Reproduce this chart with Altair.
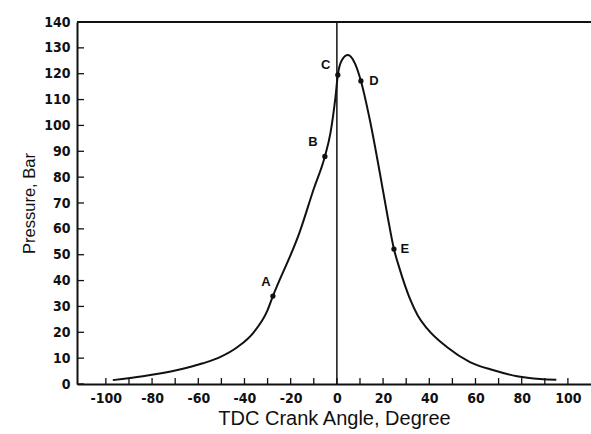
import altair as alt
import pandas as pd

# Pressure curve (crank angle in degrees, pressure in bar)
angle = [-97, -84, -69, -58, -50.6, -43, -36, -30, -27.7, -16, -10, -5.2, -2.8,
         -1.6, -0.6, 0.4, 2.2, 4.8, 7.8, 10.4, 14.3, 18.6, 22, 24.7, 27, 31.6, 35,
         39, 47.6, 57.6, 67.5, 78, 88, 95]
pressure = [1.5, 3, 5.4, 8, 10.4, 14.3, 20, 28.6, 34, 59, 75.5, 88, 97,
            104, 111, 119.5, 125.3, 127.2, 124, 117.2, 102, 81.6, 64.6, 52.2, 45, 33, 26.5,
            21.5, 14.3, 8.5, 5.4, 3, 1.9, 1.6]

# Marked points
pt_names = ["A", "B", "C", "D", "E"]
pt_angle = [-27.7, -5.2, 0.4, 10.4, 24.7]
pt_pressure = [34, 88, 119.5, 117.2, 52.2]

x_ticks = list(range(-100, 101, 10))
y_ticks = list(range(0, 141, 10))

curve = pd.DataFrame({"angle": angle, "pressure": pressure})
pts = pd.DataFrame({"name": pt_names, "angle": pt_angle, "pressure": pt_pressure})
xt = pd.DataFrame({"angle": x_ticks})
yt = pd.DataFrame({"pressure": y_ticks})

INK = "#111111"
xs = alt.Scale(domain=[-112.5, 110], nice=False, zero=False)
ys = alt.Scale(domain=[0, 140], nice=False, zero=False)

x_axis = alt.Axis(
    values=x_ticks,
    labelExpr="datum.value % 20 == 0 ? replace(datum.label, '\u2212', '-') : ''",
    ticks=False, tickSize=0, grid=False, domainColor=INK, domainWidth=2,
    labelFont="DejaVu Sans Condensed", labelFontWeight="bold", labelFontSize=14,
    labelColor=INK, labelPadding=7, labelOverlap=False,
    title="TDC Crank Angle, Degree", titleFont="Liberation Sans",
    titleFontWeight="normal", titleFontSize=20, titleColor=INK, titlePadding=3,
)
y_axis = alt.Axis(
    values=y_ticks, ticks=False, tickSize=0, grid=False, domainColor=INK, domainWidth=2,
    labelFont="DejaVu Sans Condensed", labelFontWeight="bold", labelFontSize=14,
    labelColor=INK, labelPadding=7, labelOverlap=False,
    title="Pressure, Bar", titleFont="Liberation Sans", titleFontWeight="normal",
    titleFontSize=16.5, titleColor=INK, titlePadding=6,
)

X = lambda: alt.X("angle:Q", scale=xs, axis=x_axis)
Y = lambda: alt.Y("pressure:Q", scale=ys, axis=y_axis)

line = alt.Chart(curve).mark_line(color=INK, strokeWidth=2, interpolate="monotone").encode(
    x=X(), y=Y(), order="angle:Q",
)

top_rule = alt.Chart(curve).mark_rule(color=INK, strokeWidth=2).encode(
    x=alt.value(0), x2=alt.value(514), y=alt.value(0)
)

zero_rule = alt.Chart(pd.DataFrame({"angle": [0]})).mark_rule(color=INK, strokeWidth=1.5).encode(
    x=X(), y=alt.value(0), y2=alt.value(362)
)

xticks = alt.Chart(xt).mark_rule(color=INK, strokeWidth=1.3).encode(
    x=X(), y=alt.value(362), y2=alt.value(356)
)
yticks = alt.Chart(yt).mark_rule(color=INK, strokeWidth=1.3).encode(
    y=Y(), x=alt.value(0), x2=alt.value(7)
)

dots = alt.Chart(pts).mark_circle(color=INK, opacity=1, size=28).encode(x=X(), y=Y())

offsets = {"A": (-7, -14), "B": (-12, -14), "C": (-12, -10), "D": (13, 0), "E": (11, 0)}
labels = []
for n in pt_names:
    dx, dy = offsets[n]
    labels.append(
        alt.Chart(pts).transform_filter(alt.datum.name == n).mark_text(
            font="Liberation Sans", fontWeight="bold", fontSize=13, color=INK,
            dx=dx, dy=dy, align="center", baseline="middle"
        ).encode(x=X(), y=Y(), text="name:N")
    )

chart = alt.layer(line, top_rule, zero_rule, xticks, yticks, dots, *labels).properties(
    width=514, height=362,
    autosize=alt.AutoSizeParams(type="none"),
    padding={"left": 77, "top": 22, "right": 0, "bottom": 50},
    background="white",
).configure_view(stroke=None)

chart.save("out.html", embed_options={"renderer": "svg", "actions": False})
